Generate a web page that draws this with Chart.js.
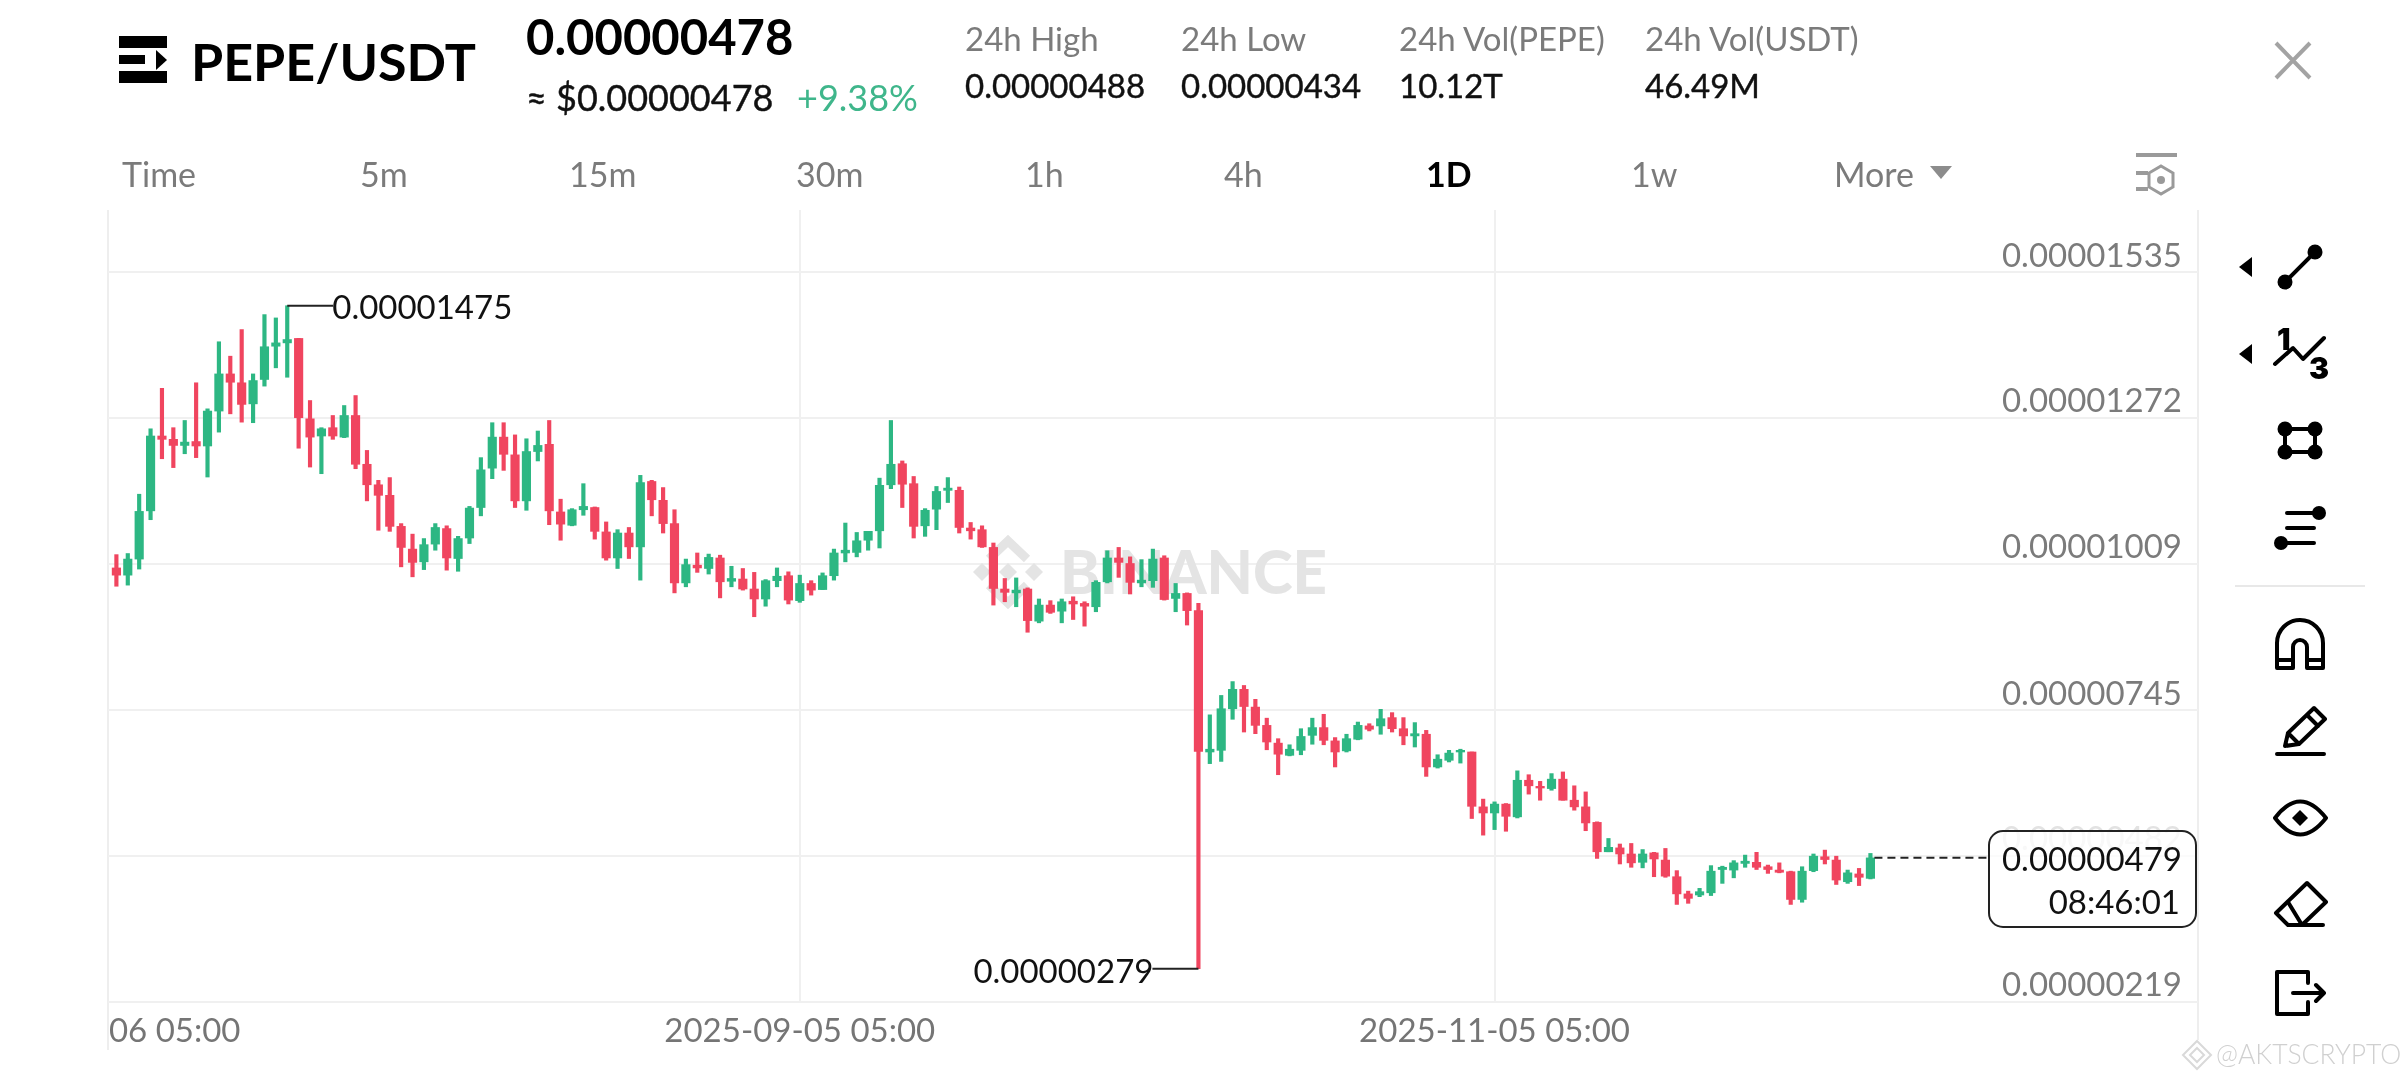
<!DOCTYPE html>
<html>
<head>
<meta charset="utf-8">
<title>PEPE/USDT</title>
<script src="https://cdn.jsdelivr.net/npm/chart.js@4"></script>
<style>
    html, body { margin: 0; padding: 0; background: #fff; width: 2400px; height: 1080px; overflow: hidden; }
    body { font-family: Lato, sans-serif; position: relative; }
    .t { position: absolute; white-space: nowrap; line-height: 1; transform: translateY(-50%); }
    .grey { color: #7b7b7b; font-size: 33px; }
    .val { color: #111; font-size: 33px; -webkit-text-stroke: 0.4px #111; }
    .tab { color: #7b7b7b; font-size: 34px; }
    #wrap { position: absolute; left: 108px; top: 210px; width: 2090px; height: 840px; }
    .frame { position: absolute; top: 210px; width: 2px; background: #eeeeee; }
    svg { position: absolute; left: 0; top: 0; }
</style>
</head>
<body>

<div class="frame" style="left:107px;height:840px"></div>
<div class="frame" style="left:2197px;height:830px"></div>

<div id="wrap"><canvas id="graph1" width="2090" height="840"></canvas></div>

<svg width="2400" height="1080" viewBox="0 0 2400 1080">
    <!-- menu logo -->
    <g fill="#000">
        <rect x="119" y="36" width="48" height="12"/>
        <rect x="119" y="71" width="48" height="12"/>
        <rect x="119" y="55" width="26" height="9"/>
        <path d="M156 50 L167 60 L156 70 Z"/>
    </g>
    <!-- close -->
    <path d="M2276 43 L2310 78 M2310 43 L2276 78" stroke="#a3a3a3" stroke-width="4" fill="none"/>
    <!-- more + settings -->
    <path d="M1930 166 H1952 L1941 179 Z" fill="#8c8c8c"/>
    <g stroke="#9a9a9a" stroke-width="3" fill="none">
        <path d="M2136 155 H2177" stroke-width="4"/>
        <path d="M2136 173 H2148 M2136 189 H2148" stroke-width="4"/>
        <path d="M2161 166 L2173 173 V187 L2161 194 L2149 187 V173 Z"/>
    </g>
    <circle cx="2161" cy="180" r="4" fill="#9a9a9a"/>

    <!-- drawing tools -->
    <g fill="#000">
        <path d="M2239 267 L2252 257 V277 Z"/>
        <path d="M2239 354 L2252 344 V364 Z"/>
        <circle cx="2285" cy="282" r="7.5"/><circle cx="2315" cy="252" r="7.5"/>
        <circle cx="2285" cy="429" r="7.5"/><circle cx="2315" cy="429" r="7.5"/>
        <circle cx="2285" cy="452" r="7.5"/><circle cx="2315" cy="452" r="7.5"/>
        <circle cx="2319" cy="513" r="7"/><circle cx="2281" cy="543" r="7"/>
        <path d="M2300 810 L2308 818 L2300 826 L2292 818 Z"/>
    </g>
    <g stroke="#000" stroke-width="4" fill="none" stroke-linecap="round" stroke-linejoin="round">
        <path d="M2285 282 L2315 252"/>
        <path d="M2275 364 L2293 348 L2303 359 L2324 338"/>
        <path d="M2285 429 H2315 V452 H2285 Z"/>
        <path d="M2287 513 H2315 M2287 528 H2314 M2285 543 H2314"/>
        <path d="M2277 668 V643 A23 23 0 0 1 2323 643 V668 H2307 V647 A7 7 0 0 0 2293 647 V668 Z M2277 660 H2293 M2307 660 H2323"/>
        <path d="M2285 746 L2288 733 L2314 708 L2325 719 L2299 744 Z M2288 733 L2299 744 M2307 715 L2318 726 M2277 754 H2324"/>
        <path d="M2275 818 Q2300 785 2326 818 Q2300 851 2275 818 Z"/>
        <path d="M2276 913 L2307 883 L2326 902 L2302 925 H2288 Z M2288 902 L2302 925 M2302 925 H2323"/>
        <path d="M2308 983 V972 H2277 V1014 H2308 V1002 M2293 993 H2323 M2316 985 L2324 993 L2316 1001"/>
    </g>
    <path d="M2235 586 H2365" stroke="#e8e8e8" stroke-width="2"/>
    <text x="2277" y="350" font-family="Inter" font-weight="900" font-size="30" text-anchor="start">1</text>
    <text x="2309" y="379" font-family="Inter" font-weight="900" font-size="30" text-anchor="start">3</text>

    <!-- corner mark -->
    <path d="M2197 1041 L2211 1055 L2197 1069 L2183 1055 Z M2197 1048 L2204 1055 L2197 1062 L2190 1055 Z" fill="none" stroke="#d9d9d9" stroke-width="2"/>
    <text x="2216" y="1064" font-family="Lato" font-weight="300" font-size="26.5" fill="#d0d0d0">@AKTSCRYPTO</text>
</svg>

<div class="t" style="left:191px;top:61px;font-size:52px;font-weight:700;color:#000">PEPE/USDT</div>
<div class="t" style="left:526px;top:36px;font-size:49px;font-weight:700;color:#000">0.00000478</div>
<div class="t" style="left:526px;top:97px;font-size:36px;color:#111;-webkit-text-stroke:0.4px #111">≈ $0.00000478</div>
<div class="t" style="left:797px;top:97px;font-size:36px;color:#3fb68b">+9.38%</div>

<div class="t grey" style="left:965px;top:38px">24h High</div>
<div class="t val" style="left:965px;top:85px">0.00000488</div>
<div class="t grey" style="left:1181px;top:38px">24h Low</div>
<div class="t val" style="left:1181px;top:85px">0.00000434</div>
<div class="t grey" style="left:1399px;top:38px">24h Vol(PEPE)</div>
<div class="t val" style="left:1399px;top:85px">10.12T</div>
<div class="t grey" style="left:1645px;top:38px">24h Vol(USDT)</div>
<div class="t val" style="left:1645px;top:85px">46.49M</div>

<div class="t tab" style="left:122px;top:174px">Time</div>
<div class="t tab" style="left:360px;top:174px">5m</div>
<div class="t tab" style="left:569px;top:174px">15m</div>
<div class="t tab" style="left:796px;top:174px">30m</div>
<div class="t tab" style="left:1025px;top:174px">1h</div>
<div class="t tab" style="left:1224px;top:174px">4h</div>
<div class="t tab" style="left:1426px;top:174px;color:#000;font-weight:700">1D</div>
<div class="t tab" style="left:1631px;top:174px">1w</div>
<div class="t tab" style="left:1834px;top:174px">More</div>

<script>
// prices in units of 0.00000001, one entry per daily candle
var opens = [1002,989,1018,1105,1240,1234,1223,1230,1222,1285,1352,1336,1298,1342,1402,1408,1416,1271,1240,1255,
    1238,1277,1189,1152,1133,1077,1036,1013,1045,1073,1019,1056,1111,1182,1238,1206,1123,1212,1225,1103,
    1079,1107,1111,1067,1020,1065,1040,1158,1124,1082,975,1007,1001,1020,978,982,964,946,979,988,
    943,974,963,988,1029,1030,1052,1069,1152,1190,1154,1078,1108,1142,1142,1074,1071,1039,964,957,
    964,906,935,924,942,938,932,977,1020,1010,975,979,1020,947,956,925,670,673,748,783,
    751,718,686,664,673,700,714,690,672,693,717,717,732,712,699,702,643,655,670,670,
    571,560,576,553,619,608,604,621,583,571,543,490,497,486,471,488,475,445,414,412,
    416,458,457,469,471,463,457,454,404,456,481,475,436,450,442];
var closes = [989,1018,1104,1240,1234,1223,1229,1222,1285,1352,1337,1297,1340,1401,1408,1414,1273,1238,1253,1240,
    1277,1189,1152,1133,1077,1039,1012,1044,1075,1020,1055,1110,1179,1238,1207,1123,1212,1223,1105,1081,
    1107,1113,1068,1020,1065,1040,1156,1125,1082,975,1008,1002,1021,977,983,964,946,979,987,944,
    974,962,988,1029,1034,1051,1068,1151,1189,1153,1077,1106,1140,1146,1075,1069,1040,965,958,962,
    907,935,922,941,937,933,976,1020,1012,976,980,1018,945,956,925,671,675,748,783,752,
    718,688,666,675,698,714,691,670,694,718,711,730,712,699,703,643,657,668,673,572,
    560,576,554,619,609,605,621,583,571,542,490,498,486,470,486,477,446,414,406,418,
    455,462,470,473,462,458,453,404,455,482,476,439,452,444,479];
var highs = [1026,1028,1135,1253,1326,1255,1268,1336,1289,1410,1384,1432,1352,1459,1453,1475,1416,1304,1255,1277,
    1295,1313,1214,1160,1165,1082,1063,1055,1082,1078,1059,1113,1201,1264,1264,1242,1235,1249,1268,1126,
    1109,1154,1112,1085,1071,1075,1169,1160,1147,1107,1018,1029,1027,1025,1005,1001,994,981,1002,995,
    989,979,993,1036,1083,1066,1068,1164,1268,1195,1167,1109,1149,1165,1148,1084,1078,1047,983,984,
    966,946,943,946,950,941,979,1033,1039,1022,1017,1036,1024,974,957,938,737,772,797,790,
    765,731,694,683,712,731,738,696,702,724,721,747,741,732,723,709,665,673,675,670,
    585,580,577,636,629,617,631,634,609,598,544,514,504,505,494,489,496,456,419,424,
    465,464,474,484,489,466,470,455,463,486,493,482,457,460,487];
var lows = [969,971,1000,1089,1199,1183,1208,1201,1166,1247,1280,1265,1264,1330,1363,1346,1218,1184,1172,1234,
    1237,1181,1123,1070,1068,1004,986,999,1034,998,996,1046,1096,1163,1178,1111,1106,1195,1080,1052,
    1078,1097,1054,1016,1001,1019,980,1096,1065,957,968,994,991,948,968,962,914,933,968,937,
    940,953,963,980,1013,1022,1034,1038,1145,1111,1056,1059,1071,1120,1065,1054,1039,935,941,932,
    886,903,920,903,909,897,923,975,985,955,968,967,944,923,899,279,649,653,729,706,
    703,674,629,663,665,684,683,643,670,692,708,702,706,683,679,626,641,652,650,550,
    520,530,527,551,594,583,601,583,565,528,478,490,468,462,461,445,444,395,397,409,
    411,433,443,462,458,451,452,395,399,454,468,431,433,429,441];

var priceTicks = [1535, 1272, 1009, 745, 482, 219];
var xTickIndex = [-1, 60, 121];
var xTickLabels = ['2025-07-06 05:00', '2025-09-05 05:00', '2025-11-05 05:00'];
var lastPrice = 479;
var countdown = '08:46:01';

var upColor = '#2db783';
var downColor = '#f0455f';
var gridColor = '#f0f0f0';
var fontFamily = 'Lato, sans-serif';

function priceText(v) {
    return (v / 1e8).toFixed(8);
}

var candleColors = opens.map(function(o, i) {
    return closes[i] >= o ? upColor : downColor;
});
var wicks = lows.map(function(l, i) {
    return { x: i, y: [l, highs[i]] };
});
var bodies = opens.map(function(o, i) {
    return { x: i, y: [Math.min(o, closes[i]), Math.max(o, closes[i])] };
});

// faint logo behind the candles
var watermark = {
    id: 'watermark',
    beforeDatasetsDraw: function(chart) {
        var ctx = chart.ctx;
        ctx.save();
        ctx.translate(-108, -210);
        ctx.fillStyle = '#e4e4e4';
        ctx.font = '900 60px ' + fontFamily;
        ctx.textBaseline = 'middle';
        ctx.textAlign = 'left';
        ctx.fillText('BINANCE', 1060, 575);
        ctx.strokeStyle = '#e4e4e4';
        ctx.lineWidth = 9;
        ctx.beginPath();
        ctx.moveTo(989, 559); ctx.lineTo(1008, 541); ctx.lineTo(1027, 559);
        ctx.stroke();
        ctx.beginPath();
        ctx.moveTo(989, 585); ctx.lineTo(1008, 603); ctx.lineTo(1027, 585);
        ctx.stroke();
        [[982, 572], [1008, 572], [1034, 572]].forEach(function(p) {
            ctx.beginPath();
            ctx.moveTo(p[0] - 9, p[1]); ctx.lineTo(p[0], p[1] - 9); ctx.lineTo(p[0] + 9, p[1]); ctx.lineTo(p[0], p[1] + 9);
            ctx.closePath();
            ctx.fillStyle = '#e4e4e4';
            ctx.fill();
        });
        ctx.restore();
    }
};

// high / low callouts and the live price tag
var callouts = {
    id: 'callouts',
    afterDraw: function(chart) {
        var ctx = chart.ctx;
        var x = chart.scales.x;
        var y = chart.scales.y;
        var hi = highs.indexOf(Math.max.apply(null, highs));
        var lo = lows.indexOf(Math.min.apply(null, lows));
        var last = opens.length - 1;

        ctx.save();
        ctx.strokeStyle = '#222';
        ctx.fillStyle = '#111';
        ctx.lineWidth = 2;
        ctx.font = '33px ' + fontFamily;
        ctx.textBaseline = 'middle';

        var hx = x.getPixelForValue(hi), hy = y.getPixelForValue(highs[hi]);
        ctx.beginPath();
        ctx.moveTo(hx, hy); ctx.lineTo(hx + 46, hy);
        ctx.stroke();
        ctx.textAlign = 'left';
        ctx.fillText(priceText(highs[hi]), hx + 45, hy + 3);

        var lx = x.getPixelForValue(lo), ly = y.getPixelForValue(lows[lo]);
        ctx.beginPath();
        ctx.moveTo(lx, ly); ctx.lineTo(lx - 46, ly);
        ctx.stroke();
        ctx.textAlign = 'right';
        ctx.fillText(priceText(lows[lo]), lx - 45, ly + 4);

        var py = y.getPixelForValue(lastPrice);
        var boxL = 1881, boxR = 2088, boxT = 621, boxB = 717;
        ctx.setLineDash([8, 5]);
        ctx.beginPath();
        ctx.moveTo(x.getPixelForValue(last) + 4, py); ctx.lineTo(boxL, py);
        ctx.stroke();
        ctx.setLineDash([]);

        ctx.beginPath();
        ctx.roundRect(boxL, boxT, boxR - boxL, boxB - boxT, 14);
        ctx.fillStyle = 'rgba(255,255,255,0.75)';
        ctx.fill();
        ctx.stroke();

        ctx.fillStyle = '#111';
        ctx.fillText(priceText(lastPrice), 2074, 650);
        ctx.fillText(countdown, 2072, 693);
        ctx.restore();
    }
};

window.onload = function() {
    var ctx = document.getElementById('graph1').getContext('2d');
    window.candleChart = new Chart(ctx, {
        type: 'bar',
        data: {
            datasets: [{
                data: wicks,
                backgroundColor: candleColors,
                barThickness: 3.5,
                grouped: false
            }, {
                data: bodies,
                backgroundColor: candleColors,
                barThickness: 8.5,
                grouped: false
            }]
        },
        options: {
            responsive: false,
            animation: false,
            devicePixelRatio: 1,
            layout: { padding: 0 },
            plugins: { legend: { display: false }, tooltip: { enabled: false } },
            scales: {
                x: {
                    type: 'linear',
                    position: 'bottom',
                    offset: false,
                    min: -0.737,
                    max: 182.76,
                    afterBuildTicks: function(scale) {
                        scale.ticks = xTickIndex.map(function(v) { return { value: v }; });
                    },
                    afterFit: function(scale) {
                        scale.paddingLeft = 0;
                        scale.paddingRight = 0;
                        scale.height = 48;
                    },
                    border: { display: false },
                    grid: { color: gridColor, lineWidth: 2, drawTicks: false, offset: false },
                    ticks: {
                        autoSkip: false,
                        maxRotation: 0,
                        padding: 10,
                        color: '#757575',
                        font: { family: fontFamily, size: 33 },
                        callback: function(v, i) { return xTickLabels[i]; }
                    }
                },
                y: {
                    type: 'linear',
                    position: 'right',
                    min: 219,
                    max: 1647.7,
                    afterBuildTicks: function(scale) {
                        scale.ticks = priceTicks.map(function(v) { return { value: v }; });
                    },
                    afterFit: function(scale) {
                        scale.paddingTop = 0;
                        scale.paddingBottom = 0;
                        scale.width = 0;
                    },
                    border: { display: false },
                    grid: { color: gridColor, lineWidth: 2, drawTicks: false },
                    ticks: {
                        mirror: true,
                        align: 'end',
                        padding: -16,
                        autoSkip: false,
                        color: function(c) { return c.tick.value === 482 ? '#e2e2e2' : '#7b7b7b'; },
                        font: { family: fontFamily, size: 33 },
                        callback: function(v) { return priceText(v); }
                    }
                }
            }
        },
        plugins: [watermark, callouts]
    });
};
</script>
</body>
</html>
